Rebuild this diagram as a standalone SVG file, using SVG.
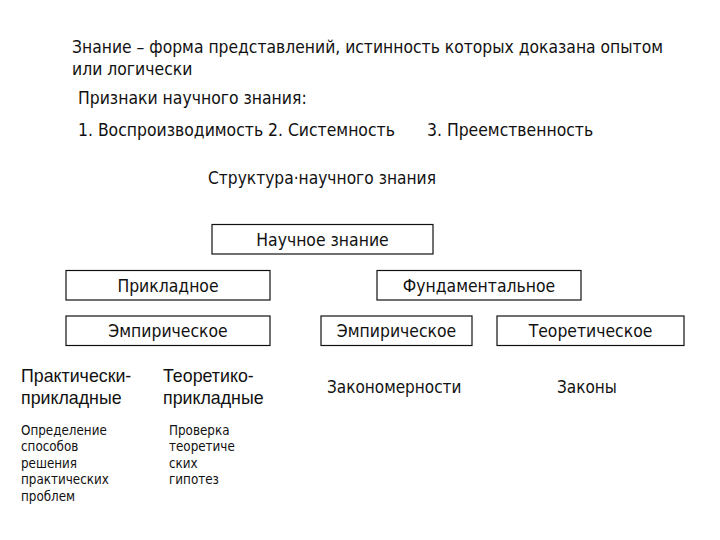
<svg xmlns="http://www.w3.org/2000/svg" width="720" height="540" viewBox="0 0 720 540">
<style>
text{font-family:"DejaVu Sans Condensed","Liberation Sans",sans-serif;fill:#111;}
.t{font-size:17.4px;}
.b{font-size:17.4px;text-anchor:middle;}
.l{font-size:17px;}
.s{font-size:13.3px;}
.a{font-size:17.8px;font-family:"Liberation Sans",sans-serif;}
rect{fill:#fff;stroke:#111;stroke-width:1.2;}
</style>
<rect x="0" y="0" width="720" height="540" style="stroke:none"/>
<g id="header">
<text class="t" x="72" y="53" textLength="591" lengthAdjust="spacingAndGlyphs">Знание – форма представлений, истинность которых доказана опытом</text>
<text class="t" x="72" y="75">или логически</text>
<text class="t" x="78" y="104">Признаки научного знания:</text>
<text class="t" x="78" y="136">1. Воспроизводимость</text>
<text class="t" x="268" y="136">2. Системность</text>
<text class="t" x="427" y="136">3.  Преемственность</text>
<text class="t" x="208" y="184" textLength="228" lengthAdjust="spacingAndGlyphs">Структура·научного знания</text>
</g>
<g id="connectors"></g>
<g id="node-science"><rect x="212" y="224.5" width="221" height="29.5"/><text class="b" x="322.5" y="245.5">Научное знание</text></g>
<g id="node-applied"><rect x="66" y="270.5" width="204" height="29.5"/><text class="b" x="168" y="291.5">Прикладное</text></g>
<g id="node-fundamental"><rect x="377" y="270.5" width="204" height="29.5"/><text class="b" x="479" y="291.5">Фундаментальное</text></g>
<g id="node-emp1"><rect x="66" y="316" width="204" height="29.5"/><text class="b" x="168" y="337">Эмпирическое</text></g>
<g id="node-emp2"><rect x="321" y="316" width="151" height="29.5"/><text class="b" x="396.5" y="337">Эмпирическое</text></g>
<g id="node-theor"><rect x="497" y="316" width="187" height="29.5"/><text class="b" x="590.5" y="337">Теоретическое</text></g>
<g id="practical">
<text class="a" x="21" y="382">Практически-</text>
<text class="a" x="21" y="404">прикладные</text>
<text class="s" x="21" y="434.5">Определение</text>
<text class="s" x="21" y="451">способов</text>
<text class="s" x="21" y="467.5">решения</text>
<text class="s" x="21" y="484">практических</text>
<text class="s" x="21" y="500.5">проблем</text>
</g>
<g id="theoretical">
<text class="a" x="163" y="382">Теоретико-</text>
<text class="a" x="163" y="404">прикладные</text>
<text class="s" x="169" y="434.5">Проверка</text>
<text class="s" x="169" y="451">теоретиче</text>
<text class="s" x="169" y="467.5">ских</text>
<text class="s" x="169" y="484">гипотез</text>
</g>
<g id="laws">
<text class="l" x="327" y="393">Закономерности</text>
<text class="l" x="557" y="393">Законы</text>
</g>
</svg>
